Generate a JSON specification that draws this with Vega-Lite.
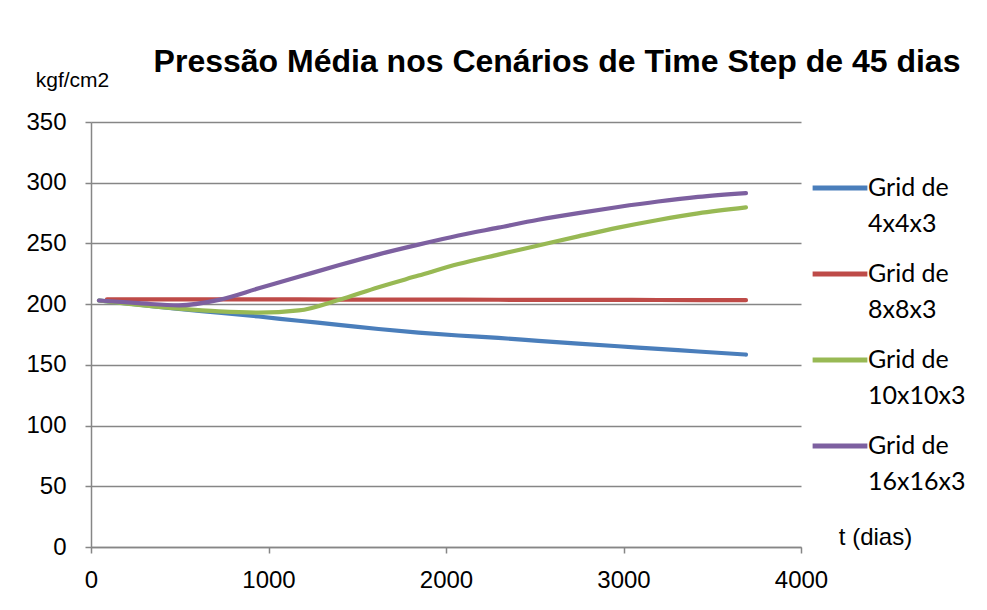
{
  "$schema": "https://vega.github.io/schema/vega-lite/v6.json",
  "width": 710,
  "height": 425,
  "autosize": {"type": "none"},
  "padding": {"left": 91, "top": 122, "right": 186, "bottom": 63},
  "background": "white",
  "title": {
    "text": "Pressão Média nos Cenários de Time Step de 45 dias",
    "font": "Liberation Sans",
    "fontSize": 32,
    "fontWeight": "bold",
    "color": "black",
    "anchor": "middle",
    "dx": 111,
    "dy": 30,
    "offset": 20
  },
  "data": {
    "values": [
      {"t": 45, "p": 203.0, "s": "Grid de 4x4x3"},
      {"t": 270, "p": 199.5, "s": "Grid de 4x4x3"},
      {"t": 495, "p": 196.0, "s": "Grid de 4x4x3"},
      {"t": 720, "p": 193.0, "s": "Grid de 4x4x3"},
      {"t": 945, "p": 189.8, "s": "Grid de 4x4x3"},
      {"t": 1170, "p": 186.3, "s": "Grid de 4x4x3"},
      {"t": 1395, "p": 183.0, "s": "Grid de 4x4x3"},
      {"t": 1620, "p": 179.5, "s": "Grid de 4x4x3"},
      {"t": 1845, "p": 176.6, "s": "Grid de 4x4x3"},
      {"t": 2070, "p": 174.2, "s": "Grid de 4x4x3"},
      {"t": 2295, "p": 172.2, "s": "Grid de 4x4x3"},
      {"t": 2520, "p": 169.8, "s": "Grid de 4x4x3"},
      {"t": 2745, "p": 167.5, "s": "Grid de 4x4x3"},
      {"t": 2970, "p": 165.3, "s": "Grid de 4x4x3"},
      {"t": 3195, "p": 163.2, "s": "Grid de 4x4x3"},
      {"t": 3420, "p": 161.0, "s": "Grid de 4x4x3"},
      {"t": 3690, "p": 158.5, "s": "Grid de 4x4x3"},

      {"t": 90, "p": 204.0, "s": "Grid de 8x8x3"},
      {"t": 495, "p": 204.0, "s": "Grid de 8x8x3"},
      {"t": 945, "p": 203.9, "s": "Grid de 8x8x3"},
      {"t": 1395, "p": 203.8, "s": "Grid de 8x8x3"},
      {"t": 1845, "p": 203.7, "s": "Grid de 8x8x3"},
      {"t": 2295, "p": 203.6, "s": "Grid de 8x8x3"},
      {"t": 2745, "p": 203.5, "s": "Grid de 8x8x3"},
      {"t": 3195, "p": 203.4, "s": "Grid de 8x8x3"},
      {"t": 3690, "p": 203.3, "s": "Grid de 8x8x3"},

      {"t": 45, "p": 203.0, "s": "Grid de 10x10x3"},
      {"t": 270, "p": 199.3, "s": "Grid de 10x10x3"},
      {"t": 495, "p": 196.3, "s": "Grid de 10x10x3"},
      {"t": 720, "p": 194.0, "s": "Grid de 10x10x3"},
      {"t": 945, "p": 193.0, "s": "Grid de 10x10x3"},
      {"t": 1170, "p": 194.8, "s": "Grid de 10x10x3"},
      {"t": 1395, "p": 203.5, "s": "Grid de 10x10x3"},
      {"t": 1620, "p": 214.0, "s": "Grid de 10x10x3"},
      {"t": 1845, "p": 223.5, "s": "Grid de 10x10x3"},
      {"t": 2070, "p": 233.0, "s": "Grid de 10x10x3"},
      {"t": 2295, "p": 240.8, "s": "Grid de 10x10x3"},
      {"t": 2520, "p": 248.3, "s": "Grid de 10x10x3"},
      {"t": 2745, "p": 255.8, "s": "Grid de 10x10x3"},
      {"t": 2970, "p": 263.0, "s": "Grid de 10x10x3"},
      {"t": 3195, "p": 269.3, "s": "Grid de 10x10x3"},
      {"t": 3420, "p": 274.8, "s": "Grid de 10x10x3"},
      {"t": 3690, "p": 279.7, "s": "Grid de 10x10x3"},

      {"t": 45, "p": 203.0, "s": "Grid de 16x16x3"},
      {"t": 270, "p": 200.8, "s": "Grid de 16x16x3"},
      {"t": 495, "p": 199.0, "s": "Grid de 16x16x3"},
      {"t": 720, "p": 203.5, "s": "Grid de 16x16x3"},
      {"t": 945, "p": 213.0, "s": "Grid de 16x16x3"},
      {"t": 1170, "p": 222.5, "s": "Grid de 16x16x3"},
      {"t": 1395, "p": 232.0, "s": "Grid de 16x16x3"},
      {"t": 1620, "p": 241.0, "s": "Grid de 16x16x3"},
      {"t": 1845, "p": 249.0, "s": "Grid de 16x16x3"},
      {"t": 2070, "p": 256.5, "s": "Grid de 16x16x3"},
      {"t": 2295, "p": 263.0, "s": "Grid de 16x16x3"},
      {"t": 2520, "p": 269.5, "s": "Grid de 16x16x3"},
      {"t": 2745, "p": 275.0, "s": "Grid de 16x16x3"},
      {"t": 2970, "p": 280.0, "s": "Grid de 16x16x3"},
      {"t": 3195, "p": 284.5, "s": "Grid de 16x16x3"},
      {"t": 3420, "p": 288.3, "s": "Grid de 16x16x3"},
      {"t": 3690, "p": 291.5, "s": "Grid de 16x16x3"}
    ]
  },
  "mark": {"type": "line", "strokeWidth": 4.2, "strokeCap": "round", "strokeJoin": "round", "interpolate": "monotone"},
  "encoding": {
    "x": {
      "field": "t",
      "type": "quantitative",
      "scale": {"domain": [0, 4000], "nice": false},
      "axis": {
        "values": [0, 1000, 2000, 3000, 4000],
        "format": "d",
        "labelFlush": false,
        "grid": false,
        "title": "t (dias)",
        "titleX": 784,
        "titleY": -10,
        "titleAlign": "center",
        "titleBaseline": "middle",
        "titleFontWeight": "normal",
        "titleFontSize": 24,
        "labelPadding": 15
      }
    },
    "y": {
      "field": "p",
      "type": "quantitative",
      "scale": {"domain": [0, 350], "nice": false},
      "axis": {
        "values": [0, 50, 100, 150, 200, 250, 300, 350],
        "grid": true,
        "title": "kgf/cm2",
        "titleAngle": 0,
        "titleX": -19,
        "titleY": -42,
        "titleAlign": "center",
        "titleBaseline": "middle",
        "titleFontWeight": "normal",
        "titleFontSize": 21,
        "labelPadding": 19
      }
    },
    "color": {
      "field": "s",
      "type": "nominal",
      "sort": ["Grid de 4x4x3", "Grid de 8x8x3", "Grid de 10x10x3", "Grid de 16x16x3"],
      "scale": {
        "domain": ["Grid de 4x4x3", "Grid de 8x8x3", "Grid de 10x10x3", "Grid de 16x16x3"],
        "range": ["#4A7EBB", "#BE4B48", "#98B954", "#7D60A0"]
      },
      "legend": {
        "title": null,
        "orient": "none",
        "legendX": 719,
        "legendY": 36,
        "symbolType": "stroke",
        "symbolSize": 3000,
        "symbolStrokeWidth": 5,
        "labelExpr": "['Grid de', replace(datum.label, 'Grid de ', '')]",
        "labelFont": "Lato",
        "labelFontSize": 25,
        "labelBaseline": "middle",
        "labelColor": "black",
        "labelOffset": -2,
        "rowPadding": 7,
        "padding": 0,
        "encode": {
          "labels": {
            "update": {
              "lineHeight": {"value": 36}
            }
          }
        }
      }
    }
  },
  "config": {
    "view": {"stroke": null},
    "axis": {
      "labelFont": "Liberation Sans",
      "titleFont": "Liberation Sans",
      "labelFontSize": 24,
      "labelColor": "black",
      "titleColor": "black",
      "domainColor": "#868686",
      "domainWidth": 1.5,
      "tickColor": "#868686",
      "tickWidth": 1.5,
      "tickSize": 6,
      "gridColor": "#868686",
      "gridWidth": 1.5
    }
  }
}
